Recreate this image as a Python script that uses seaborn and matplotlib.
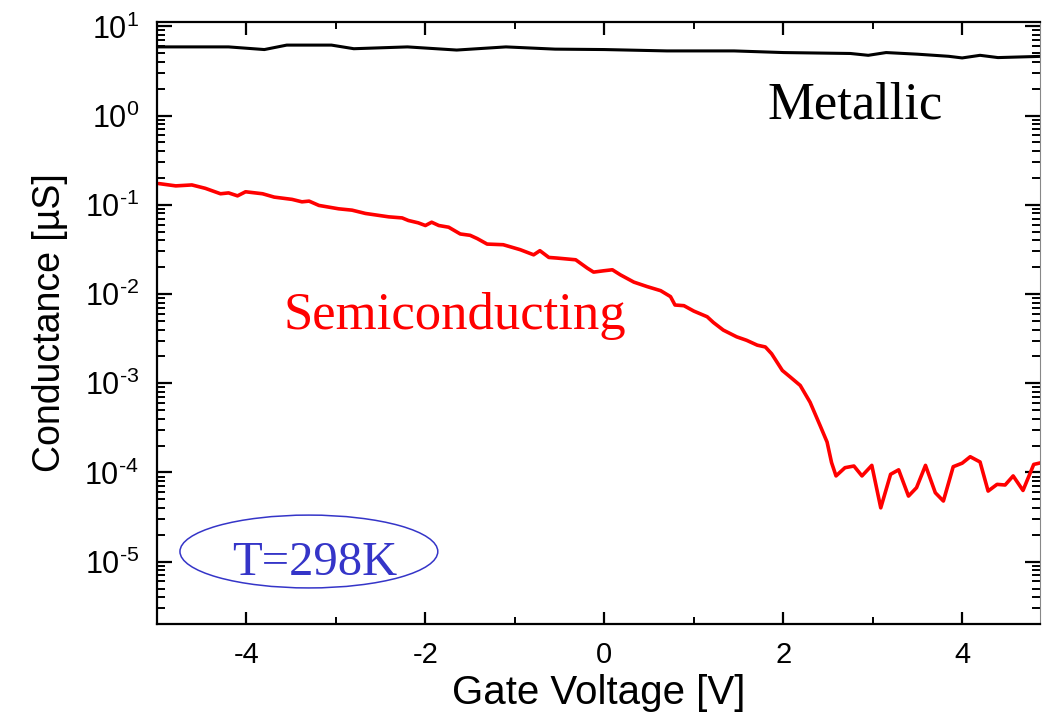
import numpy as np
import pandas as pd
import matplotlib
matplotlib.use("Agg")
import matplotlib.pyplot as plt
from matplotlib.patches import Ellipse
from matplotlib.ticker import LogLocator, MultipleLocator, FuncFormatter, FixedLocator
import seaborn as sns

# Gate sweep of a metallic tube (conductance in µS)
metallic_vg = [-5.0, -4.2, -3.8, -3.55, -3.05, -2.8, -2.2, -1.65, -1.1, -0.55, 0.0,
               0.7, 1.45, 2.0, 2.75, 2.95, 3.15, 3.5, 3.85, 4.0, 4.2, 4.4, 4.9]
metallic_g = [5.89, 5.89, 5.50, 6.17, 6.17, 5.62, 5.89, 5.43, 5.89, 5.56, 5.50,
              5.31, 5.31, 5.09, 4.97, 4.74, 5.09, 4.88, 4.62, 4.43, 4.74, 4.47, 4.62]

# Gate sweep of a semiconducting tube (conductance in µS)
semi_vg = [-4.98, -4.79, -4.61, -4.46, -4.29, -4.20, -4.10, -4.01, -3.82, -3.69,
           -3.49, -3.38, -3.30, -3.19, -2.97, -2.82, -2.67, -2.41, -2.26, -2.19,
           -2.08, -2.00, -1.93, -1.85, -1.74, -1.61, -1.50, -1.42, -1.31, -1.13,
           -0.94, -0.79, -0.72, -0.62, -0.53, -0.32, -0.19, -0.12, -0.01, 0.09,
           0.18, 0.33, 0.48, 0.63, 0.74, 0.79, 0.89, 1.00, 1.15, 1.22,
           1.33, 1.48, 1.59, 1.71, 1.80, 1.87, 1.99, 2.08, 2.19, 2.30,
           2.41, 2.49, 2.54, 2.59, 2.69, 2.79, 2.88, 2.99, 3.09, 3.20,
           3.29, 3.40, 3.49, 3.59, 3.70, 3.79, 3.90, 4.00, 4.09, 4.20,
           4.29, 4.39, 4.48, 4.57, 4.68, 4.80, 4.89]
semi_g = [0.173, 0.163, 0.167, 0.153, 0.133, 0.136, 0.126, 0.140, 0.133, 0.122,
          0.115, 0.108, 0.110, 0.0984, 0.0902, 0.0871, 0.0800, 0.0733, 0.0713, 0.0667,
          0.0628, 0.0586, 0.0638, 0.0586, 0.0561, 0.0471, 0.0455, 0.0418, 0.0363, 0.0357,
          0.0314, 0.0275, 0.0306, 0.0257, 0.0253, 0.0242, 0.0195, 0.0176, 0.0182, 0.0187,
          0.0164, 0.0136, 0.0121, 0.0109, 0.00935, 0.00753, 0.00740, 0.00644, 0.00556, 0.00479,
          0.00394, 0.00331, 0.00303, 0.00267, 0.00255, 0.00214, 0.00139, 0.00117, 0.000944, 0.000612,
          0.000339, 0.000219, 0.000129, 9.14e-5, 1.13e-4, 1.18e-4, 9.14e-5, 1.20e-4, 4.01e-5, 9.53e-5,
          1.07e-4, 5.43e-5, 6.75e-5, 1.20e-4, 5.92e-5, 4.78e-5, 1.16e-4, 1.27e-4, 1.50e-4, 1.31e-4,
          6.18e-5, 7.35e-5, 7.23e-5, 9.14e-5, 6.28e-5, 1.23e-4, 1.29e-4]

x_ticks = [-4, -2, 0, 2, 4]
y_decades = [1e-5, 1e-4, 1e-3, 1e-2, 1e-1, 1e0, 1e1]

sns.set_style("ticks")
plt.rcParams["font.family"] = ["Liberation Sans", "DejaVu Sans"]
plt.rcParams["mathtext.fontset"] = "custom"
plt.rcParams["mathtext.rm"] = "Liberation Sans"
plt.rcParams["text.color"] = "black"
plt.rcParams["axes.labelcolor"] = "black"
plt.rcParams["xtick.color"] = "black"
plt.rcParams["ytick.color"] = "black"

df_m = pd.DataFrame({"Vg": metallic_vg, "G": metallic_g})
df_s = pd.DataFrame({"Vg": semi_vg, "G": semi_g})

fig = plt.figure(figsize=(10.42, 7.25), dpi=100)
ax = fig.add_axes([157 / 1042, 101 / 725, 883 / 1042, 602 / 725])

sns.lineplot(data=df_m, x="Vg", y="G", ax=ax, color="black", lw=2.2,
             sort=False, estimator=None)
sns.lineplot(data=df_s, x="Vg", y="G", ax=ax, color="#ff0000", lw=2.6,
             sort=False, estimator=None)

ax.set_yscale("log")
ax.set_xlim(-5, 4.87)
ax.set_ylim(2e-6, 11.2)
ax.set_xticks(x_ticks)
ax.set_xticklabels([str(t) for t in x_ticks])
ax.xaxis.set_minor_locator(MultipleLocator(1))
ax.yaxis.set_major_locator(FixedLocator(y_decades))
ax.yaxis.set_minor_locator(LogLocator(base=10, subs=np.arange(2, 10), numticks=20))


def decade_label(val, pos):
    exp = int(round(np.log10(val)))
    return r"$\mathdefault{10^{\text{%d}}}$" % exp


ax.yaxis.set_major_formatter(FuncFormatter(decade_label))

for s in ax.spines.values():
    s.set_linewidth(1.6)
    s.set_color("black")
ax.spines["right"].set_linewidth(0.8)
ax.spines["right"].set_color("#888888")

ax.tick_params(axis="both", which="both", direction="in", top=True, right=True)
ax.tick_params(axis="x", which="major", length=9, width=1.6, labelsize=21, pad=12)
ax.tick_params(axis="x", which="minor", length=5, width=1.4)
ax.tick_params(axis="y", which="major", length=11, width=1.6, labelsize=22, pad=13)
ax.tick_params(axis="y", which="minor", length=6, width=1.4)

ax.set_xlabel("Gate Voltage [V]", fontsize=29, labelpad=4)
ax.set_ylabel("Conductance [\u00b5S]", fontsize=27, labelpad=12)

serif = ["Liberation Serif", "DejaVu Serif"]
ax.text(1.82, 0.925, "Metallic", fontsize=38, family=serif, color="black",
        va="baseline", ha="left")
ax.text(-3.59, 0.0041, "Semiconducting", fontsize=38, family=serif, color="#ff0000",
        va="baseline", ha="left")
ax.text(-4.16, 7.0e-6, "T=298K", fontsize=35, family=serif, color="#3535c8",
        va="baseline", ha="left")
ax.add_patch(Ellipse((0.172, 0.1204), 0.292, 0.121, transform=ax.transAxes,
                     fill=False, edgecolor="#3535c8", lw=1.1))

fig.savefig("out.png", dpi=100)
